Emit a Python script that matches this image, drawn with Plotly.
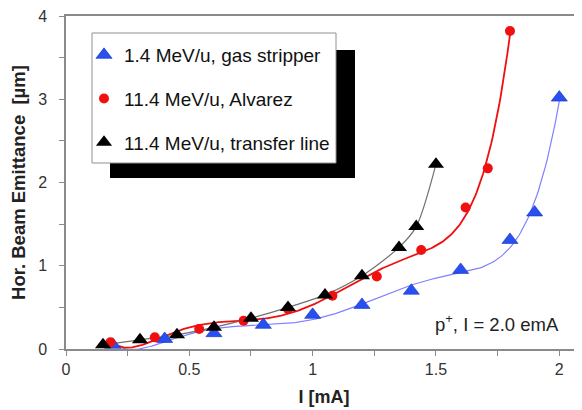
import numpy as np
import plotly.graph_objects as go

# ---- data ----
gas_x = [0.19, 0.40, 0.60, 0.80, 1.00, 1.20, 1.40, 1.60, 1.80, 1.90, 2.00]
gas_y = [0.05, 0.12, 0.19, 0.29, 0.41, 0.53, 0.70, 0.95, 1.31, 1.64, 3.02]

alv_x = [0.18, 0.36, 0.54, 0.72, 0.90, 1.08, 1.26, 1.44, 1.62, 1.71, 1.80]
alv_y = [0.08, 0.14, 0.24, 0.34, 0.48, 0.64, 0.87, 1.19, 1.70, 2.17, 3.82]

tl_x = [0.15, 0.30, 0.45, 0.60, 0.75, 0.90, 1.05, 1.20, 1.35, 1.42, 1.50]
tl_y = [0.05, 0.11, 0.17, 0.26, 0.37, 0.50, 0.65, 0.88, 1.22, 1.47, 2.22]

names = ["1.4 MeV/u, gas stripper", "11.4 MeV/u, Alvarez", "11.4 MeV/u, transfer line"]
x_ticks = [0, 0.5, 1, 1.5, 2]
x_tick_labels = ["0", "0.5", "1", "1.5", "2"]
y_ticks = [0, 1, 2, 3, 4]

BLUE = "#2850f0"
RED = "#f01010"
BLACK = "#000000"

def polyfit_curve(x, y, deg):
    c = np.polyfit(x, y, deg)
    xs = np.linspace(min(x), max(x), 300)
    return xs, np.polyval(c, xs)

fig = go.Figure()

bx, by = polyfit_curve(gas_x, gas_y, 6)
rx, ry = polyfit_curve(alv_x, alv_y, 6)

fig.add_trace(go.Scatter(x=bx, y=by, mode="lines", line=dict(color="#8080ff", width=1.2),
                         showlegend=False, hoverinfo="skip"))
fig.add_trace(go.Scatter(x=rx, y=ry, mode="lines", line=dict(color=RED, width=1.8),
                         showlegend=False, hoverinfo="skip"))
fig.add_trace(go.Scatter(x=tl_x, y=tl_y, mode="lines", line=dict(color="#707070", width=1.2, shape="spline", smoothing=0.8),
                         showlegend=False, hoverinfo="skip"))

fig.add_trace(go.Scatter(x=gas_x, y=gas_y, mode="markers", name=names[0], legendgroup="a",
                         marker=dict(symbol="triangle-up", size=14, color=BLUE, line=dict(color="#1030c0", width=0.6))))
fig.add_trace(go.Scatter(x=alv_x, y=alv_y, mode="markers", name=names[1], legendgroup="b",
                         marker=dict(symbol="circle", size=10, color=RED, line=dict(width=0))))
fig.add_trace(go.Scatter(x=tl_x, y=tl_y, mode="markers", name=names[2], legendgroup="c",
                         marker=dict(symbol="triangle-up", size=14, color=BLACK, line=dict(width=0))))

font = "Liberation Sans, Arial, sans-serif"

# page is offset by the default 8px body margin
def px_(page_x):
    return (page_x - 66) / 516

def py_(page_y):
    return (349 - page_y) / 333

fig.update_layout(
    width=582, height=410,
    margin=dict(l=58, r=8, t=8, b=69, autoexpand=False),
    paper_bgcolor="white", plot_bgcolor="white",
    font=dict(family=font, size=16, color="#222222"),
    showlegend=True,
    legend=dict(x=px_(84), y=py_(36), xref="paper", yref="paper", xanchor="left", yanchor="top",
                bgcolor="rgba(0,0,0,0)", borderwidth=0,
                tracegroupgap=16, traceorder="grouped",
                font=dict(family=font, size=19, color="#111111"),
                itemwidth=30),
    xaxis=dict(range=[0, 2.092], tickvals=x_ticks, ticktext=x_tick_labels,
               showgrid=False, zeroline=False,
               showline=True, linecolor="#8a8a8a", linewidth=1.5, mirror=True,
               ticks="outside", ticklen=5, tickcolor="#8a8a8a",
               minor=dict(ticks="outside", ticklen=5, tickcolor="#8a8a8a", dtick=0.25),
               tickfont=dict(size=16, color="#333333"),
               title=dict(text="<b>I [mA]</b>", font=dict(size=18, color="#222222"), standoff=13)),
    yaxis=dict(range=[0, 4], tickvals=y_ticks,
               showgrid=False, zeroline=False,
               showline=True, linecolor="#8a8a8a", linewidth=1.5,
               ticks="outside", ticklen=5, tickcolor="#8a8a8a", ticklabelstandoff=9,
               ticklabeloverflow="allow",
               minor=dict(ticks="outside", ticklen=5, tickcolor="#8a8a8a", dtick=0.5),
               tickfont=dict(size=16, color="#333333"),
               title=dict(text="<b>Hor. Beam Emittance  [µm]</b>", font=dict(size=18.5, color="#222222"), standoff=9)),
    shapes=[
        dict(type="rect", xref="paper", yref="paper", layer="above",
             x0=px_(110), x1=px_(355), y0=py_(178), y1=py_(50),
             fillcolor="black", line=dict(width=0)),
        dict(type="rect", xref="paper", yref="paper", layer="above",
             x0=px_(92), x1=px_(336), y0=py_(163), y1=py_(33),
             fillcolor="white", line=dict(color="#909090", width=1)),
    ],
    annotations=[
        dict(text="p<sup>+</sup>, I = 2.0 emA", xref="paper", yref="paper",
             x=px_(561), y=py_(323), xanchor="right", yanchor="middle",
             showarrow=False, font=dict(size=18.5, color="#222222")),
    ],
)

fig.write_html("out.html")
